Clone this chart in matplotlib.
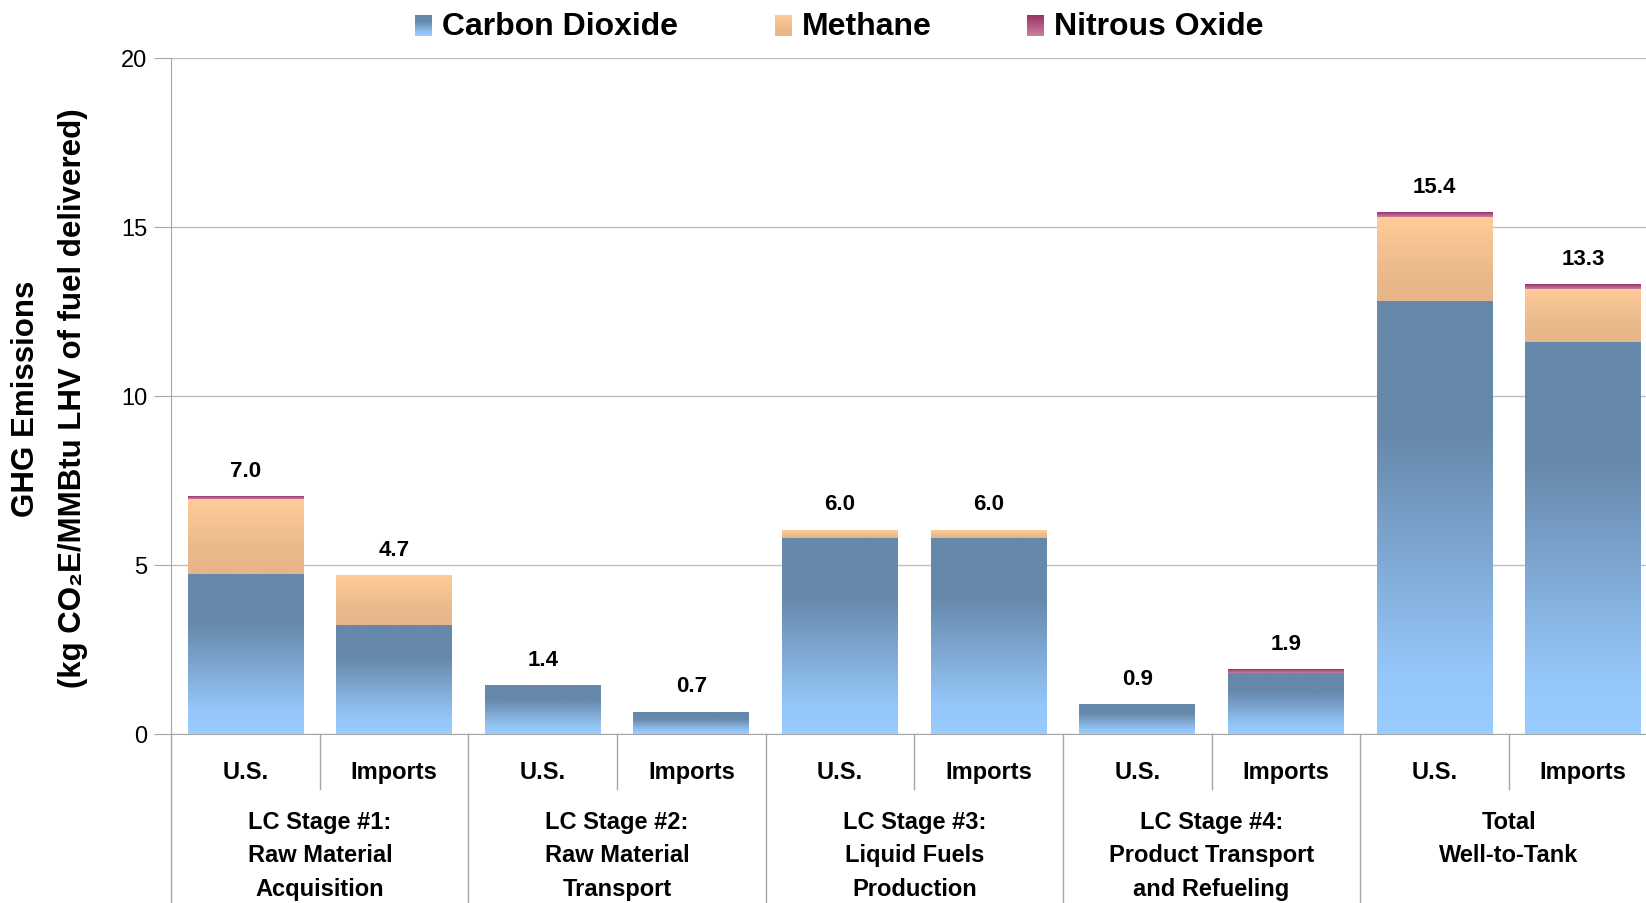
import numpy as np
import matplotlib
matplotlib.use("Agg")
import matplotlib.pyplot as plt
from matplotlib.colors import LinearSegmentedColormap

plt.rcParams['font.family'] = ['Liberation Sans', 'DejaVu Sans']

# data
sources = ["U.S.", "Imports"] * 5
stages = ["LC Stage #1:\nRaw Material\nAcquisition",
          "LC Stage #2:\nRaw Material\nTransport",
          "LC Stage #3:\nLiquid Fuels\nProduction",
          "LC Stage #4:\nProduct Transport\nand Refueling",
          "Total\nWell-to-Tank"]
co2 = [4.72, 3.22, 1.43, 0.65, 5.81, 5.81, 0.87, 1.80, 12.80, 11.58]
ch4 = [2.24, 1.46, 0.0, 0.0, 0.22, 0.22, 0.0, 0.0, 2.48, 1.59]
n2o = [0.06, 0.0, 0.0, 0.0, 0.0, 0.0, 0.0, 0.09, 0.13, 0.12]
totals = [7.0, 4.7, 1.4, 0.7, 6.0, 6.0, 0.9, 1.9, 15.4, 13.3]
series = ["Carbon Dioxide", "Methane", "Nitrous Oxide"]

# gradient fills (bottom -> top)
co2_cmap = LinearSegmentedColormap.from_list(
    "co2", [(0, "#99CCFF"), (0.15, "#95C6F8"), (0.7, "#6688AA"), (1, "#6688AA")])
ch4_cmap = LinearSegmentedColormap.from_list(
    "ch4", [(0, "#E6B489"), (0.35, "#EBBA8C"), (1, "#FFCC99")])
n2o_cmap = LinearSegmentedColormap.from_list("n2o", [(0, "#CC7FA0"), (1, "#993366")])
cmaps = [co2_cmap, ch4_cmap, n2o_cmap]

grad = np.linspace(0, 1, 256).reshape(-1, 1)
width = 0.78
gray = "#A6A6A6"

fig = plt.figure(figsize=(16.46, 9.04), dpi=100)
ax = fig.add_axes([0.104, 0.187, 0.903, 0.748])


def gradient_bar(xc, bottom, height, cmap):
    if height <= 0:
        return
    ax.imshow(grad, extent=[xc - width / 2, xc + width / 2, bottom, bottom + height],
              origin='lower', aspect='auto', cmap=cmap, zorder=3, interpolation='bicubic')


x = np.arange(len(co2))
for i in x:
    bottom = 0
    for vals, cm in zip([co2, ch4, n2o], cmaps):
        gradient_bar(i, bottom, vals[i], cm)
        bottom += vals[i]
    ax.annotate(f"{totals[i]:.1f}", (i, bottom), xytext=(0, 19), textcoords='offset points',
                ha='center', va='center', fontsize=16, fontweight='bold')

ax.set_xlim(-0.5, 9.5)
ax.set_ylim(0, 20)
ax.set_yticks([0, 5, 10, 15, 20])
ax.set_xticks([])
ax.yaxis.grid(True, color='#BFBFBF', lw=1.0)
ax.set_axisbelow(True)
for s in ['top', 'right']:
    ax.spines[s].set_visible(False)
for s in ['left', 'bottom']:
    ax.spines[s].set_color(gray)
ax.tick_params(axis='y', direction='out', length=12, color=gray, labelsize=17, pad=5)

# category separators and labels below the axis
trans = ax.get_xaxis_transform()
for b in np.arange(-0.5, 10, 2):
    ax.plot([b, b], [0, -0.25], transform=trans, clip_on=False, color=gray, lw=1)
for b in np.arange(0.5, 10, 2):
    ax.plot([b, b], [0, -0.081], transform=trans, clip_on=False, color=gray, lw=1)
for i, src in enumerate(sources):
    ax.text(i, -0.055, src, transform=trans, ha='center', va='center',
            fontsize=17, fontweight='bold')
for g, st in enumerate(stages):
    ax.text(2 * g + 0.5, -0.112, st, transform=trans, ha='center', va='top',
            fontsize=17, fontweight='bold', linespacing=1.6)

# y label in two lines
fig.text(0.0158, 0.559, "GHG Emissions", rotation=90, ha='center', va='center',
         fontsize=22.5, fontweight='bold')
fig.text(0.0443, 0.559, "(kg CO\u2082E/MMBtu LHV of fuel delivered)", rotation=90,
         ha='center', va='center', fontsize=22.5, fontweight='bold')

# legend with gradient swatches
sw_x = [415, 775, 1027]
tx_x = [442, 802, 1054]
for name, cm, sx, tx in zip(series, cmaps, sw_x, tx_x):
    sax = fig.add_axes([sx / 1646, 1 - 37 / 904, 17 / 1646, 21 / 904])
    sax.imshow(grad, origin='lower', aspect='auto', cmap=cm)
    sax.axis('off')
    fig.text(tx / 1646, 1 - 27 / 904, name, ha='left', va='center',
             fontsize=23, fontweight='bold')

fig.savefig("out.png", dpi=100)
